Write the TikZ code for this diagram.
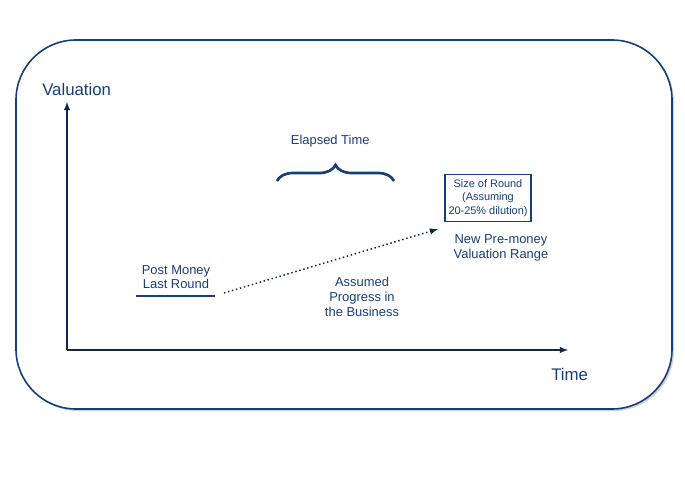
\documentclass[tikz,border=0pt]{standalone}
\usepackage{fontspec}
\setmainfont{Liberation Sans}
\usetikzlibrary{positioning, decorations.pathreplacing, shadows}
\definecolor{navy}{RGB}{22,62,122}
\definecolor{axis}{RGB}{20,36,80}

\begin{document}
\begin{tikzpicture}[x = 0.75pt, y = -0.75pt,
    every node/.style = { text = navy, align = center, inner sep = 1pt },
    big/.style = { font = \fontsize{12.6}{14}\selectfont },
    small/.style = { font = \fontsize{9.7}{11}\selectfont },
    tiny/.style = { font = \fontsize{8.2}{10}\selectfont }]
    \useasboundingbox (0,0) rectangle (685,481);
    % frame
    \draw [navy, line width = 1.2pt, rounded corners = 45pt,
           drop shadow = {shadow xshift=1.5pt, shadow yshift=-1.5pt, opacity=.35},
           fill = white]
        (16,40) rectangle (672,409);

    % axes
    \coordinate (origin) at (67,350);
    \coordinate (ytop) at (67,102);
    \coordinate (xend) at (568,350);
    \draw [axis, line width = 1.1pt, -latex] (origin) -- (ytop);
    \draw [axis, line width = 1.1pt, -latex] (origin) -- (xend);
    \node [big] (val) at (79,89) { Valuation };
    \node [big] (time) at (572,374) { Time };

    % elapsed time
    \node [small] (elapsed) at (332,141) { Elapsed Time };
    \coordinate (bl) at (277,181);
    \coordinate (br) at (394,181);
    \draw [navy, line width = 2pt, decorate,
           decoration = {brace, amplitude=12pt}] (bl) -- (br);

    % last round
    \node [small] (post) at (176,277) { Post Money \\ Last Round };
    \coordinate (ul) at (136,296);
    \coordinate (ur) at (215,296);
    \draw [navy, line width = 1.2pt] (ul) -- (ur);

    % new round
    \node [tiny, draw = navy, line width = 1.2pt, inner sep = 2.5pt,
           minimum width = 63pt, minimum height = 35pt] (size) at (488,198)
        { Size of Round \\ (Assuming \\ 20-25\% dilution) };
    \node [small] (pre) at (501,248) { New Pre-money \\ Valuation Range };

    % progress
    \coordinate (from) at (224,293);
    \coordinate (to) at (438,229);
    \draw [axis, line width = 1.1pt, dotted, -latex] (from) -- (to);
    \node [small] (prog) at (362,297) { Assumed \\ Progress in \\ the Business };
\end{tikzpicture}
\end{document}
